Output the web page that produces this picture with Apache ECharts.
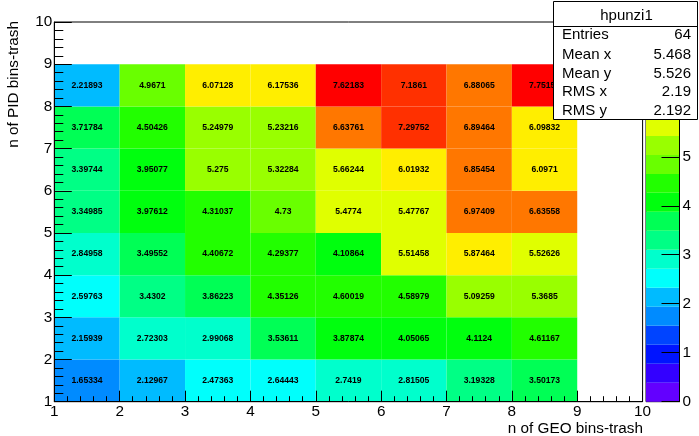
<!DOCTYPE html>
<html>
<head>
<meta charset="utf-8">
<script src="https://cdn.jsdelivr.net/npm/echarts@6/dist/echarts.min.js"></script>
<style>
html, body { margin: 0; padding: 0; background: #fff; }
#main { width: 699px; height: 436px; }
</style>
</head>
<body>
<div id="main"></div>
<script>
var dom = document.getElementById('main');
var myChart = echarts.init(dom);

// bin lower edges (GEO on x, PID on y)
var xBins = [1, 2, 3, 4, 5, 6, 7, 8];
var yBins = [1, 2, 3, 4, 5, 6, 7, 8];
// cell contents, one array per PID row, bottom row first
var row1 = [1.65334, 2.12967, 2.47363, 2.64443, 2.7419, 2.81505, 3.19328, 3.50173];
var row2 = [2.15939, 2.72303, 2.99068, 3.53611, 3.87874, 4.05065, 4.1124, 4.61167];
var row3 = [2.59763, 3.4302, 3.86223, 4.35126, 4.60019, 4.58979, 5.09259, 5.3685];
var row4 = [2.84958, 3.49552, 4.40672, 4.29377, 4.10864, 5.51458, 5.87464, 5.52626];
var row5 = [3.34985, 3.97612, 4.31037, 4.73, 5.4774, 5.47767, 6.97409, 6.63558];
var row6 = [3.39744, 3.95077, 5.275, 5.32284, 5.66244, 6.01932, 6.85454, 6.0971];
var row7 = [3.71784, 4.50426, 5.24979, 5.23216, 6.63761, 7.29752, 6.89464, 6.09832];
var row8 = [2.21893, 4.9671, 6.07128, 6.17536, 7.62183, 7.1861, 6.88065, 7.75152];
var rows = [row1, row2, row3, row4, row5, row6, row7, row8];

var axisMin = 1, axisMax = 10;

var statNames = ['Entries', 'Mean x', 'Mean y', 'RMS x', 'RMS y'];
var statValues = ['64', '5.468', '5.526', '2.19', '2.192'];
var histName = 'hpunzi1';

// ROOT pretty palette, 20 contours
var palette = ['#6300ff', '#3300ff', '#0014ff', '#0044ff', '#008bff', '#00bbff', '#00fffc', '#00ffcc',
  '#00ff85', '#00ff55', '#00ff0e', '#22ff00', '#69ff00', '#99ff00', '#e0ff00', '#ffee00',
  '#ffa700', '#ff7700', '#ff3000', '#ff0000'];

var cells = [];
var zMax = 0;
rows.forEach(function (r, j) {
  r.forEach(function (v, i) {
    cells.push([xBins[i], yBins[j], v]);
    if (v > zMax) zMax = v;
  });
});
var zStep = zMax / palette.length;
var pieces = palette.map(function (c, k) {
  return { gte: k * zStep, lt: (k + 1) * zStep, color: c };
});
pieces[pieces.length - 1].lte = zMax + 1e-9;
delete pieces[pieces.length - 1].lt;
var bands = palette.map(function (c, k) { return [k * zStep, (k + 1) * zStep, k]; });

var FONT = 'Liberation Sans';
var LBL = 15.3;

function renderCell(params, api) {
  var x = api.value(0), y = api.value(1), v = api.value(2);
  var a = api.coord([x, y + 1]);
  var b = api.coord([x + 1, y]);
  return {
    type: 'group',
    children: [{
      type: 'rect',
      shape: { x: a[0], y: a[1], width: b[0] - a[0], height: b[1] - a[1] },
      style: { fill: api.visual('color') }
    }, {
      type: 'text',
      x: (a[0] + b[0]) / 2,
      y: (a[1] + b[1]) / 2,
      style: {
        text: String(v), fill: '#000', align: 'center', verticalAlign: 'middle',
        font: 'bold 8.6px "' + FONT + '"'
      }
    }]
  };
}

function renderBand(params, api) {
  var a = api.coord([0, api.value(1)]);
  var b = api.coord([1, api.value(0)]);
  return {
    type: 'rect',
    shape: { x: a[0], y: a[1], width: b[0] - a[0], height: b[1] - a[1] },
    style: { fill: palette[api.value(2)] }
  };
}

// stats box
var statsGraphics = [{
  type: 'rect', z: 100,
  shape: { x: 553.5, y: 1.5, width: 144, height: 118 },
  style: { fill: '#fff', stroke: '#000', lineWidth: 1 }
}, {
  type: 'line', z: 101,
  shape: { x1: 553.5, y1: 26.5, x2: 697.5, y2: 26.5 },
  style: { stroke: '#000', lineWidth: 1 }
}, {
  type: 'text', z: 101, x: 626.5, y: 23.5,
  style: { text: histName, fill: '#000', align: 'center', verticalAlign: 'bottom', font: '15px "' + FONT + '"' }
}];
var statBase = [40, 59.3, 78.3, 97, 115.3];
statNames.forEach(function (n, i) {
  statsGraphics.push({
    type: 'text', z: 101, x: 562, y: statBase[i] + 2.7,
    style: { text: n, fill: '#000', align: 'left', verticalAlign: 'bottom', font: '15px "' + FONT + '"' }
  });
  statsGraphics.push({
    type: 'text', z: 101, x: 691, y: statBase[i] + 2.7,
    style: { text: statValues[i], fill: '#000', align: 'right', verticalAlign: 'bottom', font: '15px "' + FONT + '"' }
  });
});

option = {
  animation: false,
  backgroundColor: '#fff',
  textStyle: { fontFamily: FONT },
  grid: [{
    left: 54.3, right: 56.4, top: 22, bottom: 34.3,
    show: true, borderColor: '#000', borderWidth: 1, backgroundColor: 'transparent'
  }, {
    left: 646, right: 19.5, top: 22, bottom: 34.3,
    show: true, borderColor: '#000', borderWidth: 1, backgroundColor: 'transparent'
  }],
  visualMap: {
    type: 'piecewise', show: false, seriesIndex: 0, dimension: 2, pieces: pieces
  },
  xAxis: [{
    gridIndex: 0, type: 'value', min: axisMin, max: axisMax, interval: 1, z: 5,
    axisLine: { show: true, onZero: false, lineStyle: { color: '#000', width: 1 } },
    axisTick: { show: true, inside: true, length: 11, lineStyle: { color: '#000' } },
    minorTick: { show: true, splitNumber: 5, length: 5.5, lineStyle: { color: '#000' } },
    axisLabel: { color: '#000', fontSize: LBL, fontFamily: FONT, margin: 3, showMinLabel: true, showMaxLabel: true },
    splitLine: { show: false }
  }, {
    gridIndex: 1, type: 'value', min: 0, max: 1, show: false
  }],
  yAxis: [{
    gridIndex: 0, type: 'value', min: axisMin, max: axisMax, interval: 1, z: 5,
    axisLine: { show: true, onZero: false, lineStyle: { color: '#000', width: 1 } },
    axisTick: { show: true, inside: true, length: 17.5, lineStyle: { color: '#000' } },
    minorTick: { show: true, splitNumber: 5, length: 9, lineStyle: { color: '#000' } },
    axisLabel: { color: '#000', fontSize: LBL, fontFamily: FONT, margin: 2, showMinLabel: true, showMaxLabel: true },
    splitLine: { show: false }
  }, {
    gridIndex: 1, type: 'value', min: 0, max: zMax, interval: 1, position: 'right', z: 5,
    axisLine: { show: true, onZero: false, lineStyle: { color: '#000', width: 1 } },
    axisTick: { show: true, inside: true, length: 18, lineStyle: { color: '#000' } },
    axisLabel: { color: '#000', fontSize: LBL, fontFamily: FONT, margin: 3, showMaxLabel: false },
    splitLine: { show: false }
  }],
  series: [{
    type: 'custom', name: histName, xAxisIndex: 0, yAxisIndex: 0,
    renderItem: renderCell, data: cells, z: 2
  }, {
    type: 'custom', xAxisIndex: 1, yAxisIndex: 1, silent: true,
    renderItem: renderBand, data: bands, z: 2
  }],
  graphic: [{
    type: 'text', x: 643, y: 436,
    style: { text: 'n of GEO bins-trash', fill: '#000', align: 'right', verticalAlign: 'bottom', font: LBL + 'px "' + FONT + '"' }
  }, {
    type: 'text', x: 21.5, y: 21, rotation: Math.PI / 2,
    style: { text: 'n of PID bins-trash', fill: '#000', align: 'right', verticalAlign: 'bottom', font: LBL + 'px "' + FONT + '"' }
  }].concat(statsGraphics)
};

if (option && typeof option === "object") {
  myChart.setOption(option, true);
}
</script>
</body>
</html>
